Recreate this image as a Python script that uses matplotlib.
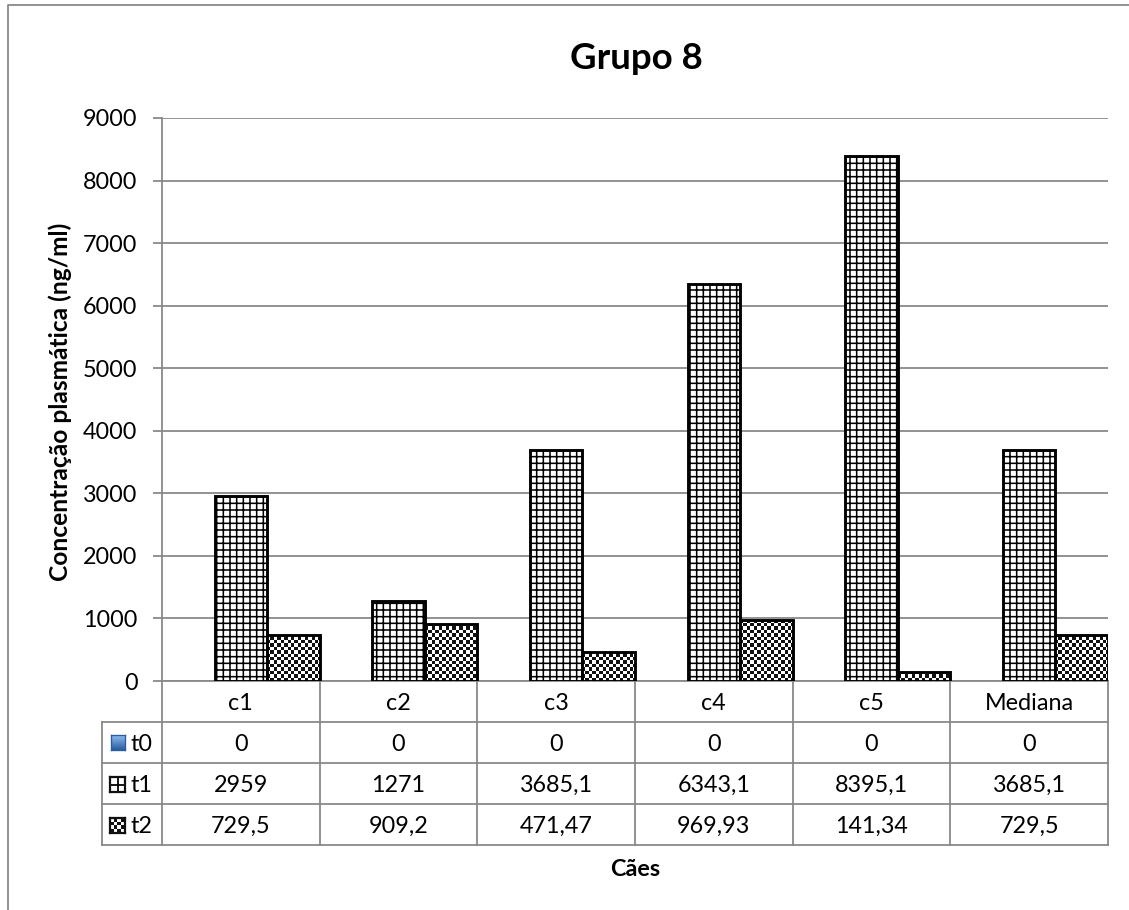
import numpy as np
import matplotlib
matplotlib.use('Agg')
import matplotlib.pyplot as plt
from matplotlib.colors import ListedColormap, LinearSegmentedColormap
from matplotlib.lines import Line2D
from matplotlib.patches import Rectangle

# concentrations per dog (ng/ml) at each sampling time
caes = ['c1', 'c2', 'c3', 'c4', 'c5', 'Mediana']
series = ['t0', 't1', 't2']
t0 = [0, 0, 0, 0, 0, 0]
t1 = [2959, 1271, 3685.1, 6343.1, 8395.1, 3685.1]
t2 = [729.5, 909.2, 471.47, 969.93, 141.34, 729.5]
yticks = [0, 1000, 2000, 3000, 4000, 5000, 6000, 7000, 8000, 9000]

plt.rcParams['font.family'] = ['Lato', 'DejaVu Sans']
plt.rcParams['hatch.linewidth'] = 1.4

W, H, DPI = 1129, 910, 80
fig = plt.figure(figsize=(W / DPI, H / DPI), dpi=DPI)


def px(x, y, w, h):
    # pixel box measured from the top-left corner -> figure fraction
    return [x / W, 1 - (y + h) / H, w / W, h / H]


def fmt(v):
    return f'{v:g}'.replace('.', ',')


gray = '#888888'
checker_cmap = ListedColormap(['white', '#111111'])

ax = fig.add_axes(px(162, 118, 946, 563))
x = np.arange(len(caes))
bw = 1 / 3
ux = 946 / len(caes)     # pixels per category
uy = 563 / 9000          # pixels per ng/ml

ax.bar(x - bw, t0, bw, color='#4f81bd', linewidth=0, zorder=3)
ax.bar(x, t1, bw, facecolor='white', edgecolor='black', hatch='++',
       linewidth=2.6, zorder=3)
bars2 = ax.bar(x + bw, t2, bw, facecolor='none', edgecolor='black',
               linewidth=2.6, zorder=4)

# checkerboard fill for t2
cell = 3.4
for b in bars2:
    x0, w, h = b.get_x(), b.get_width(), b.get_height()
    nx = int(np.ceil(w * ux / cell))
    ny = max(int(np.ceil(h * uy / cell)), 1)
    board = np.add.outer(np.arange(ny), np.arange(nx)) % 2
    im = ax.imshow(board, cmap=checker_cmap, origin='lower', aspect='auto',
                   interpolation='nearest', zorder=3.5,
                   extent=(x0, x0 + nx * cell / ux, 0, ny * cell / uy))
    im.set_clip_path(b)

ax.set_xlim(-0.5, len(caes) - 0.5)
ax.set_ylim(0, 9000)
ax.set_yticks(yticks)
ax.yaxis.grid(True, color=gray, lw=1.6)
ax.set_axisbelow(True)
for s in ['top', 'right']:
    ax.spines[s].set_visible(False)
for s in ['left', 'bottom']:
    ax.spines[s].set_color(gray)
    ax.spines[s].set_linewidth(1.6)
ax.tick_params(axis='y', length=8, width=1.6, color=gray, labelsize=21, pad=14)
ax.tick_params(axis='x', bottom=False, labelbottom=False)

# data table under the axis
tr = ax.get_xaxis_transform()
rh = 41 / 563
left = -0.5 - 60 / ux
line_kw = dict(color=gray, lw=1.6, transform=tr, clip_on=False)
for k in range(len(caes) + 1):
    ax.plot([k - 0.5] * 2, [0, -4 * rh], **line_kw)
ax.plot([left] * 2, [-rh, -4 * rh], **line_kw)
for r in range(1, 5):
    ax.plot([left, len(caes) - 0.5], [-r * rh] * 2, **line_kw)

txt_kw = dict(fontsize=21, transform=tr, va='center_baseline', clip_on=False)
for i, c in enumerate(caes):
    ax.text(i, -0.5 * rh, c, ha='center', **txt_kw)
for r, vals in enumerate([t0, t1, t2]):
    for i, v in enumerate(vals):
        ax.text(i, -(r + 1.5) * rh, fmt(v), ha='center', **txt_kw)
    ax.text(left + 29 / ux, -(r + 1.5) * rh, series[r], ha='left', **txt_kw)

# legend keys in the row labels
k0 = fig.add_axes(px(111, 735, 14, 15))
blue = LinearSegmentedColormap.from_list('b', ['#8dbbef', '#2b5e9f'])
k0.imshow(np.linspace(0, 1, 20)[:, None], cmap=blue, aspect='auto')
k1 = fig.add_axes(px(110, 777, 15, 15))
k1.set_xlim(0, 1)
k1.set_ylim(0, 1)
k1.plot([0.5, 0.5], [0, 1], color='black', lw=1.6)
k1.plot([0, 1], [0.5, 0.5], color='black', lw=1.6)
k2 = fig.add_axes(px(110, 818, 15, 15))
k2.imshow(np.add.outer(np.arange(4), np.arange(4)) % 2, cmap=checker_cmap,
          aspect='auto', interpolation='nearest')
for k in [k0, k1, k2]:
    k.set_xticks([])
    k.set_yticks([])
    for s in k.spines.values():
        s.set_linewidth(2.0 if k is not k0 else 1.2)
        s.set_color('#111111' if k is not k0 else '#2b5e9f')

fig.text(636 / W, 1 - 69 / H, 'Grupo 8', ha='center', va='baseline',
         fontsize=33, fontweight='bold')
fig.text(635 / W, 1 - 876 / H, 'Cães', ha='center', va='baseline',
         fontsize=21, fontweight='bold')
fig.text(60 / W, 1 - 402 / H, 'Concentração plasmática (ng/ml)', rotation=90,
         ha='center', va='center', fontsize=22, fontweight='bold')

# chart frame
fig.add_artist(Line2D([8 / W, 8 / W, 1], [0, 1 - 5 / H, 1 - 5 / H],
                      transform=fig.transFigure, color=gray, lw=1.6))

fig.savefig('out.png', dpi=DPI)
